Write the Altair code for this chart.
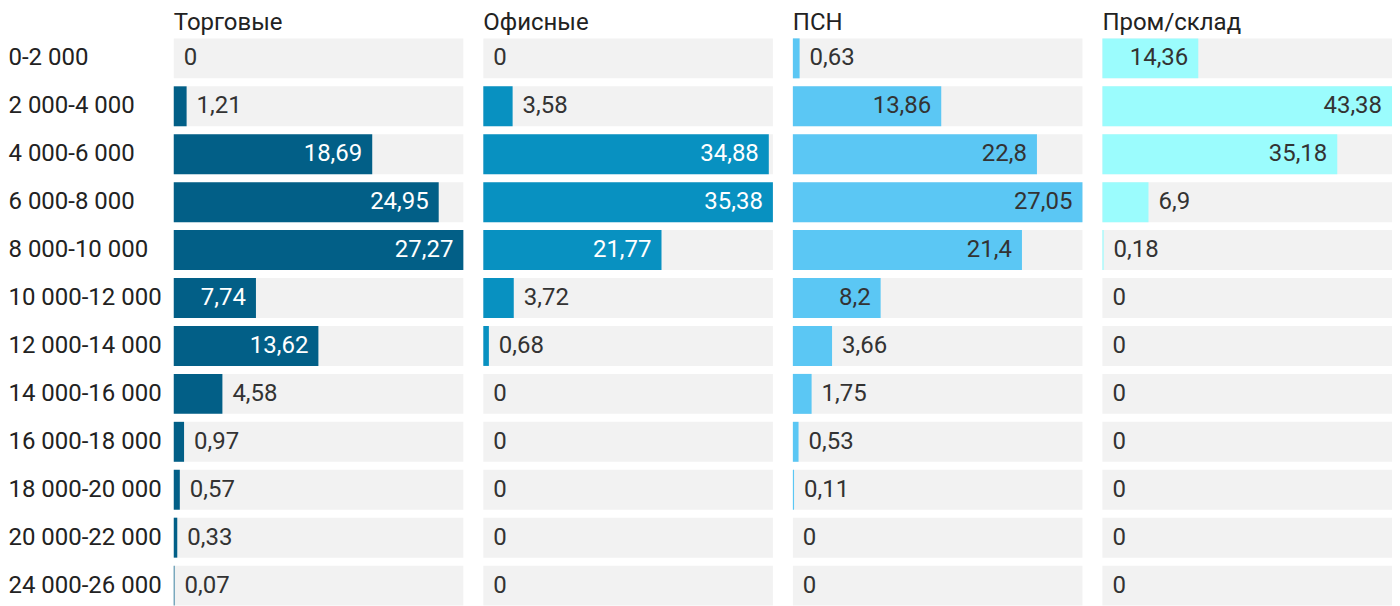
import altair as alt
import pandas as pd

ranges = ["0-2 000", "2 000-4 000", "4 000-6 000", "6 000-8 000", "8 000-10 000",
          "10 000-12 000", "12 000-14 000", "14 000-16 000", "16 000-18 000",
          "18 000-20 000", "20 000-22 000", "24 000-26 000"]
categories = ["Торговые", "Офисные", "ПСН", "Пром/склад"]
torg = [0, 1.21, 18.69, 24.95, 27.27, 7.74, 13.62, 4.58, 0.97, 0.57, 0.33, 0.07]
ofis = [0, 3.58, 34.88, 35.38, 21.77, 3.72, 0.68, 0, 0, 0, 0, 0]
psn = [0.63, 13.86, 22.8, 27.05, 21.4, 8.2, 3.66, 1.75, 0.53, 0.11, 0, 0]
prom = [14.36, 43.38, 35.18, 6.9, 0.18, 0, 0, 0, 0, 0, 0, 0]
colors = ["#025f87", "#0891c1", "#5bc7f4", "#9bfcfd"]

rows = []
for cat, vals in zip(categories, [torg, ofis, psn, prom]):
    for r, v in zip(ranges, vals):
        rows.append({"cat": cat, "range": r, "v": v})
df = pd.DataFrame(rows)

FONT = "Roboto"
FS = 24

y = alt.Y("range:N", sort=ranges, title=None,
          scale=alt.Scale(paddingInner=8 / 48, paddingOuter=1 / 12))

bg = alt.Chart().mark_bar(color="#f2f2f2").encode(
    x=alt.X("vmax:Q", axis=None, scale=alt.Scale(nice=False, zero=True)),
    y=y,
)
bars = alt.Chart().mark_bar().encode(
    x=alt.X("v:Q"),
    y=y,
    color=alt.Color("cat:N", scale=alt.Scale(domain=categories, range=colors), legend=None),
)
inside = alt.Chart().mark_text(align="right", baseline="middle", dx=-10,
                               font=FONT, fontSize=FS).encode(
    x="v:Q", y=y, text="lbl:N",
    color=alt.condition("datum.cat == 'Торговые' || datum.cat == 'Офисные'",
                        alt.value("#ffffff"), alt.value("#333333")),
).transform_filter("datum.inside")
outside = alt.Chart().mark_text(align="left", baseline="middle", dx=10,
                                font=FONT, fontSize=FS, color="#333333").encode(
    x="v:Q", y=y, text="lbl:N",
).transform_filter("!datum.inside")

layer = alt.layer(bg, bars, inside, outside, data=df).transform_joinaggregate(
    vmax="max(v)", groupby=["cat"]
).transform_calculate(
    lbl="replace(toString(datum.v), '.', ',')",
    inside="datum.v / datum.vmax > 0.25",
).properties(width=290, height=576)

chart = layer.facet(
    column=alt.Column("cat:N", sort=categories,
                      header=alt.Header(title=None, labelFontSize=FS, labelFont=FONT,
                                        labelColor="#222222", labelAnchor="start",
                                        labelAlign="left", labelPadding=-1)),
    spacing=20,
).resolve_scale(x="independent").configure_view(stroke=None).configure_axisY(
    domain=False, ticks=False, labelFontSize=FS, labelFont=FONT, labelColor="#222222",
    labelAlign="left", labelPadding=166, labelLimit=300,
).properties(padding={"top": 3, "left": 0, "right": 0, "bottom": 0})

chart.save("out.html", embed_options={"renderer": "svg", "actions": False})
